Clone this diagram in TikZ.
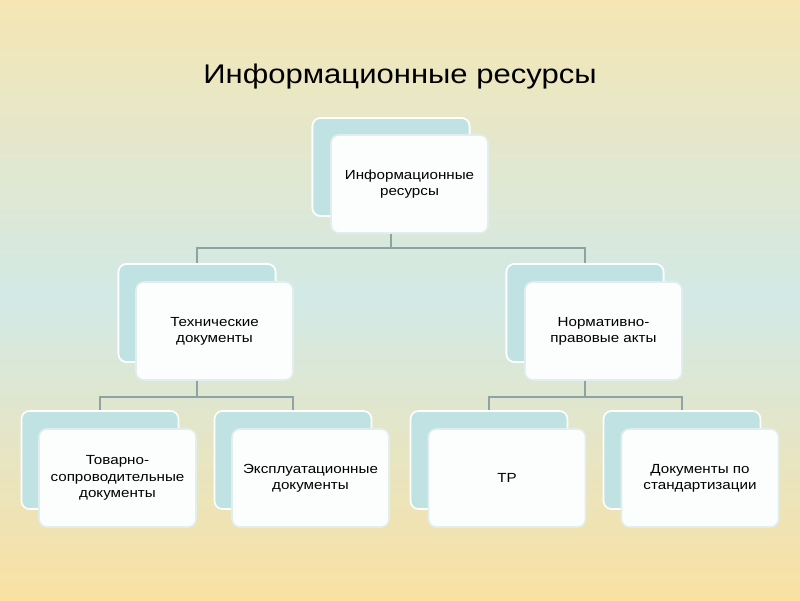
\documentclass[tikz,border=0pt]{standalone}
\usepackage{fontspec}
\setmainfont[FakeStretch=1.15]{Liberation Sans}
\definecolor{bgtop}{RGB}{245,230,180}
\definecolor{bgmid}{RGB}{210,233,230}
\definecolor{bgbot}{RGB}{250,225,162}
\definecolor{backfill}{RGB}{192,226,226}
\definecolor{frontfill}{RGB}{252,254,254}
\definecolor{frontedge}{RGB}{226,238,238}
\definecolor{connc}{RGB}{140,164,164}
\tikzset{
  backbox/.style={draw=white, line width=1.6pt, fill=backfill, rounded corners=8pt,
    minimum width=157pt, minimum height=98pt, inner sep=0pt},
  frontbox/.style={draw=frontedge, line width=1.6pt, fill=frontfill, rounded corners=8pt,
    minimum width=157pt, minimum height=98pt, inner sep=0pt, align=center,
    font=\fontsize{13.2pt}{16.2pt}\selectfont, text=black},
  conn/.style={draw=connc, line width=1.6pt}
}
\begin{document}
\begin{tikzpicture}[x=1pt,y=-1pt]
\useasboundingbox (0,0) rectangle (800,600);
\shade[top color=bgtop, bottom color=bgmid] (0,0) rectangle (800,300);
\shade[top color=bgmid, bottom color=bgbot] (0,300) rectangle (800,600);
\node[font=\fontsize{27pt}{32pt}\selectfont, text=black] (title) at (400,77) {Информационные ресурсы};
% back boxes
\node[backbox] (b1) at (391,167) {};
\node[backbox] (b2) at (197,313) {};
\node[backbox] (b3) at (585,313) {};
\node[backbox] (b4) at (100,460) {};
\node[backbox] (b5) at (293,460) {};
\node[backbox] (b6) at (489,460) {};
\node[backbox] (b7) at (682,460) {};
% junctions
\coordinate (j1) at (391,248);
\coordinate (j2) at (197,397);
\coordinate (j3) at (585,397);
% connectors
\draw[conn] (b1.center) -- (j1);
\draw[conn] (b2.north) |- (j1) -| (b3.north);
\draw[conn] (b2.center) -- (j2);
\draw[conn] (b4.north) |- (j2) -| (b5.north);
\draw[conn] (b3.center) -- (j3);
\draw[conn] (b6.north) |- (j3) -| (b7.north);
% redraw back boxes over connector stubs
\node[backbox] at (b1) {};
\node[backbox] at (b2) {};
\node[backbox] at (b3) {};
% front boxes
\node[frontbox] (f1) at (409.5,184) {Информационные\\ресурсы};
\node[frontbox] (f2) at (214.5,331) {Технические\\документы};
\node[frontbox] (f3) at (603.5,331) {Нормативно-\\правовые акты};
\node[frontbox] (f4) at (117.5,478) {Товарно-\\сопроводительные\\документы};
\node[frontbox] (f5) at (310.5,478) {Эксплуатационные\\документы};
\node[frontbox] (f6) at (507,478) {ТР};
\node[frontbox] (f7) at (700,478) {Документы по\\стандартизации};
\end{tikzpicture}
\end{document}
